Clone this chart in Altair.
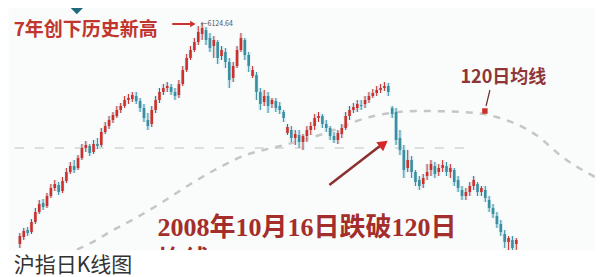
import altair as alt
import pandas as pd

# ---- candle data (index points) ----
opens = [1720,1860,2000,1960,2160,2360,2540,2480,2680,2840,2900,2780,2980,3160,3280,3240,3440,3640,3680,3560,
         3720,3700,3960,4080,4200,4280,4400,4480,4600,4620,4680,4580,4440,4200,4120,4400,4600,4760,4840,4860,
         4760,4700,4920,5200,5440,5600,5760,5920,6000,5840,5680,5760,5480,5560,5360,5040,5280,5600,5800,5500,
         5080,5100,4760,4560,4680,4520,4580,4480,4360,3940,4000,3840,3900,3760,3880,4000,4080,4240,4280,4120,
         4040,3880,3800,3920,4040,4280,4400,4440,4500,4520,4600,4680,4740,4800,4840,4880,4440,4360,3840,3600,
         3240,3400,3160,3000,2920,3080,3200,3280,3160,3240,3280,3160,3200,3000,2800,2680,2760,2880,2920,2760,
         2800,2600,2440,2280,2120,1920,1760,1800,1720]
closes = [1880,1980,1940,2160,2360,2520,2460,2680,2840,2920,2760,2980,3160,3280,3200,3440,3640,3700,3540,3720,
          3680,3960,4080,4200,4300,4400,4480,4600,4640,4700,4580,4440,4240,4080,4400,4600,4760,4840,4880,4760,
          4680,4920,5200,5440,5600,5760,5960,6040,5800,5640,5800,5440,5600,5360,5000,5280,5600,5840,5500,5280,
          5200,4760,4520,4680,4480,4600,4440,4400,4240,4060,3840,3920,3760,3880,4000,4080,4240,4280,4120,4040,
          3880,3800,3940,4040,4280,4400,4460,4520,4480,4600,4680,4740,4800,4840,4880,4760,4320,3800,3600,3200,
          3400,3160,2960,2880,3040,3160,3320,3120,3240,3300,3160,3240,2960,2840,2680,2760,2880,3000,2760,2840,
          2640,2440,2320,2120,1960,1760,1840,1640,1800]
highs = [1940,2040,2060,2220,2440,2600,2620,2740,2920,3000,2960,3060,3240,3360,3400,3500,3720,3780,3720,3800,
         3840,4040,4160,4280,4360,4480,4540,4680,4720,4760,4760,4640,4520,4340,4480,4680,4840,4920,4960,4920,
         4840,5000,5280,5520,5680,5840,6080,6124,6060,5940,5880,5800,5680,5640,5440,5360,5680,5940,5840,5560,
         5280,5160,4840,4800,4760,4640,4640,4560,4400,4120,4080,4000,4000,3920,4080,4160,4320,4360,4320,4200,
         4080,3960,4000,4120,4360,4480,4540,4600,4600,4680,4760,4820,4880,4920,4960,4940,4480,4440,4000,3700,
         3600,3480,3200,3080,3120,3320,3400,3360,3320,3400,3360,3320,3240,3080,2880,2840,2960,3080,2960,2880,
         2880,2680,2520,2360,2200,2000,1880,1880,1840]
lows = [1640,1800,1880,1920,2120,2320,2400,2440,2640,2780,2700,2740,2940,3120,3140,3200,3400,3560,3480,3520,
        3620,3660,3920,4020,4140,4240,4340,4440,4520,4560,4520,4360,4160,4000,4060,4340,4540,4700,4760,4700,
        4600,4640,4880,5160,5400,5560,5700,5800,5700,5560,5440,5320,5400,5240,4840,4960,5240,5560,5400,5160,
        5040,4600,4400,4480,4340,4440,4360,4320,4160,3900,3760,3700,3640,3600,3760,3900,4000,4160,4040,3960,
        3800,3740,3720,3840,4000,4200,4340,4360,4400,4440,4540,4640,4680,4740,4780,4680,4240,3700,3500,3040,
        3160,3040,2880,2800,2840,3000,3080,3040,3080,3160,3080,3040,2880,2760,2600,2600,2680,2800,2680,2680,
        2560,2360,2240,2040,1880,1640,1560,1500,1500]

# ---- 120-day moving average ----
ma_day = [11.4, 18.3, 24.1, 29.9, 36.8, 43.6, 51.2, 58.3, 62.9, 67.2, 77.3, 91.3, 102.7, 114.1, 122.9, 133.1, 140.2, 148.3]
ma_val = [1500, 1740, 2000, 2240, 2560, 2900, 3240, 3500, 3600, 3680, 3900, 4280, 4380, 4360, 4260, 3900, 3440, 3060]

# horizontal dashed level
level_start, level_end, level_val = -1.3, 115.3, 3640

X_DOMAIN = [-1.77, 147.0]
Y_DOMAIN = [1600, 6440]

RED = "#cf2f2a"
TEAL = "#3a8ea0"

df = pd.DataFrame({
    "i": list(range(len(opens))),
    "open": opens, "close": closes, "high": highs, "low": lows,
})
df["dir"] = ["up" if c >= o else "down" for o, c in zip(opens, closes)]

xs = alt.Scale(domain=X_DOMAIN, nice=False, zero=False)
ys = alt.Scale(domain=Y_DOMAIN, nice=False, zero=False)
colors = alt.Color("dir:N", scale=alt.Scale(domain=["up", "down"], range=[RED, TEAL]), legend=None)

base = alt.Chart(df).encode(x=alt.X("i:Q", scale=xs, axis=None))

halo = base.mark_rule(strokeWidth=4, color="#c4e6ee", opacity=0.6, clip=True).encode(
    y=alt.Y("low:Q", scale=ys, axis=None), y2="high:Q")
wick = base.mark_rule(strokeWidth=1, clip=True).encode(
    y=alt.Y("low:Q", scale=ys, axis=None), y2="high:Q", color=colors)
body = base.mark_bar(size=2.6, clip=True).encode(
    y=alt.Y("open:Q", scale=ys, axis=None), y2="close:Q", color=colors)

ma_df = pd.DataFrame({"i": ma_day, "v": ma_val})
ma = alt.Chart(ma_df).mark_line(strokeDash=[7, 7], strokeWidth=2.5, color="#c6c6c6",
                                interpolate="monotone", clip=True).encode(
    x=alt.X("i:Q", scale=xs, axis=None), y=alt.Y("v:Q", scale=ys, axis=None))

lvl_df = pd.DataFrame({"a": [level_start], "b": [level_end], "v": [level_val]})
lvl = alt.Chart(lvl_df).mark_rule(strokeDash=[9, 11], strokeWidth=1.5, color="#d4d4d4", clip=True).encode(
    x=alt.X("a:Q", scale=xs, axis=None), x2="b:Q", y=alt.Y("v:Q", scale=ys, axis=None))

# ---- annotations ----
def text_layer(txt, i, v, align, size, color, weight="bold", font="Noto Sans CJK SC", clip=True):
    d = pd.DataFrame({"i": [i], "v": [v], "t": [txt]})
    return alt.Chart(d).mark_text(align=align, baseline="middle", fontSize=size, fontWeight=weight,
                                  font=font, color=color, clip=clip).encode(
        x=alt.X("i:Q", scale=xs, axis=None), y=alt.Y("v:Q", scale=ys, axis=None), text="t:N")

def seg(i1, v1, i2, v2, color, width):
    d = pd.DataFrame({"a": [i1], "b": [i2], "v1": [v1], "v2": [v2]})
    return alt.Chart(d).mark_rule(color=color, strokeWidth=width, clip=True).encode(
        x=alt.X("a:Q", scale=xs, axis=None), x2="b:Q",
        y=alt.Y("v1:Q", scale=ys, axis=None), y2="v2:Q")

def tri(i, v, shape, angle, size, color):
    d = pd.DataFrame({"i": [i], "v": [v]})
    return alt.Chart(d).mark_point(shape=shape, angle=angle, size=size, filled=True, opacity=1,
                                   color=color, clip=True).encode(
        x=alt.X("i:Q", scale=xs, axis=None), y=alt.Y("v:Q", scale=ys, axis=None))

t_high = text_layer("7年创下历史新高", -1.6, 6000, "left", 19, "#c0352e")
peak_line = seg(39.3, 6120, 44.0, 6120, RED, 2)
peak_tri = tri(44.6, 6120, "triangle-right", 0, 40, RED)
peak_val = text_layer("←6124.64", 46.6, 6120, "left", 7, "#555555", weight="normal")

t_ma = text_layer("120日均线", 113.6, 5040, "left", 18, "#8e3636")
ma_ptr = seg(121.2, 4800, 120.2, 4480, "#6a3030", 1.2)
ma_tip = tri(119.9, 4380, "square", 0, 30, RED)

t_break = text_layer("2008年10月16日跌破120日", 35.5, 2040, "left", 26, "#a32e2c",
                     font="Liberation Serif, Noto Sans CJK SC")
t_break2 = text_layer("均线", 35.5, 1380, "left", 26, "#a32e2c",
                      font="Liberation Serif, Noto Sans CJK SC")
big_arrow = seg(79.8, 2900, 93.0, 3690, "#8b2f2f", 2.5)
big_tip = tri(93.8, 3725, "triangle-up", 53, 130, "#d42727")

teal_arrow = seg(7.6, 7000, 15.5, 6380, "#1f6b7d", 9)

caption = text_layer("沪指日K线图", -1.6, 1280, "left", 21, "#333333", weight="normal", clip=False)

chart = alt.layer(
    lvl, ma, halo, wick, body,
    t_high, peak_line, peak_tri, peak_val,
    t_ma, ma_ptr, ma_tip,
    t_break, t_break2, big_arrow, big_tip,
    teal_arrow, caption,
).properties(
    width=587, height=242,
    padding={"left": 0, "top": 0, "right": 0, "bottom": 27},
    autosize=alt.AutoSizeParams(type="none"),
    background="white",
).configure_view(stroke="transparent", fill="#fafbfb")

chart.save("out.html", embed_options={"renderer": "svg", "actions": False})
